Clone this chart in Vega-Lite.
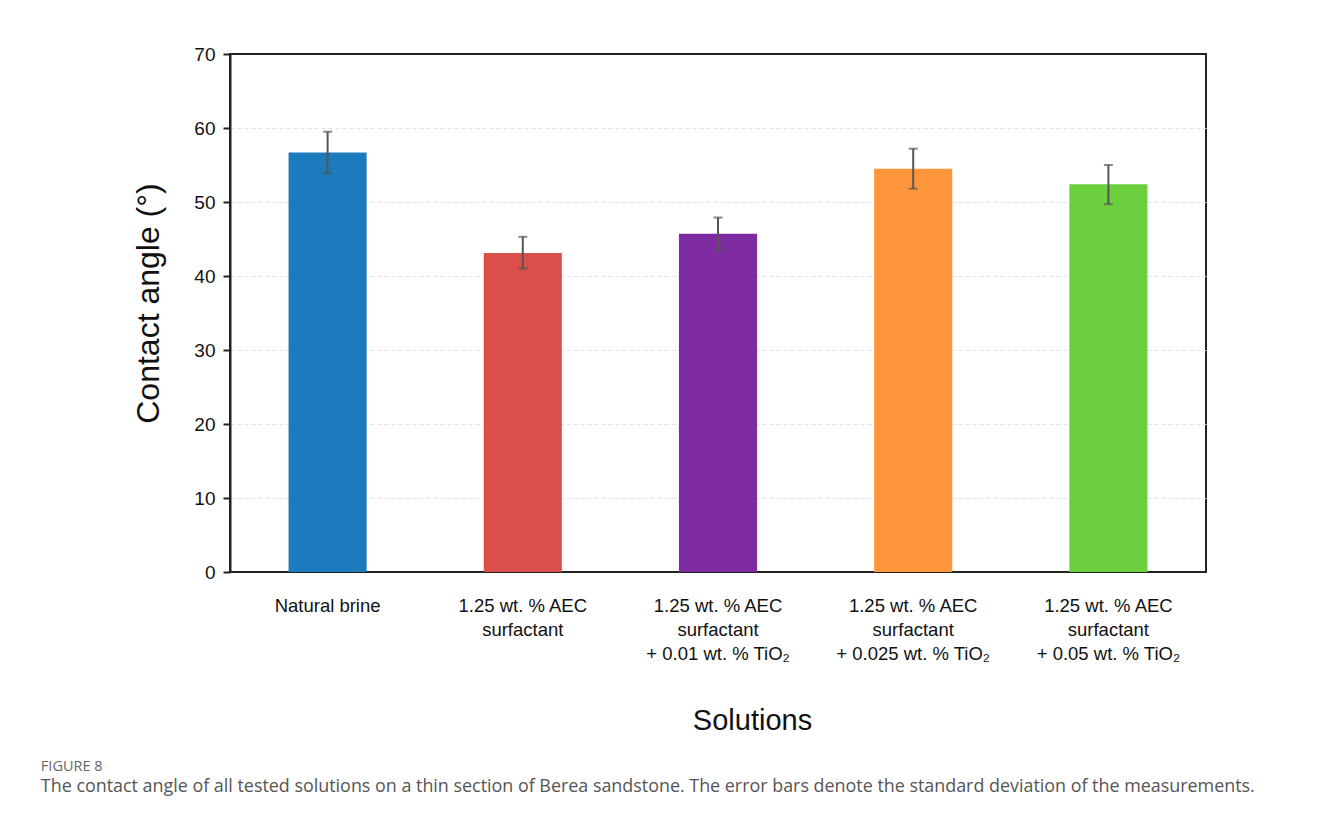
{
  "$schema": "https://vega.github.io/schema/vega-lite/v6.json",
  "width": 976,
  "height": 518,
  "padding": {"left": 40, "top": 45, "right": 10, "bottom": 10},
  "background": "white",
  "config": {
    "font": "Liberation Sans",
    "view": {"stroke": "#222", "strokeWidth": 2},
    "title": {"font": "Open Sans", "subtitleFont": "Open Sans"}
  },
  "title": {
    "text": "FIGURE 8",
    "subtitle": "The contact angle of all tested solutions on a thin section of Berea sandstone. The error bars denote the standard deviation of the measurements.",
    "orient": "bottom",
    "anchor": "start",
    "frame": "bounds",
    "dx": -92,
    "fontSize": 14.5,
    "fontWeight": "normal",
    "color": "#666",
    "subtitleFontSize": 17.9,
    "subtitleColor": "#555",
    "subtitlePadding": 4,
    "offset": 24
  },
  "data": {
    "values": [
      {"solution": "Natural brine", "angle": 56.7, "lo": 53.9, "hi": 59.5},
      {"solution": "1.25 wt. % AEC|surfactant", "angle": 43.1, "lo": 41.0, "hi": 45.3},
      {"solution": "1.25 wt. % AEC|surfactant|+ 0.01 wt. % TiO₂", "angle": 45.7, "lo": 43.4, "hi": 47.9},
      {"solution": "1.25 wt. % AEC|surfactant|+ 0.025 wt. % TiO₂", "angle": 54.5, "lo": 51.8, "hi": 57.2},
      {"solution": "1.25 wt. % AEC|surfactant|+ 0.05 wt. % TiO₂", "angle": 52.4, "lo": 49.7, "hi": 55.0}
    ]
  },
  "encoding": {
    "x": {
      "field": "solution",
      "type": "nominal",
      "sort": null,
      "scale": {"paddingInner": 0.6, "paddingOuter": 0.3},
      "axis": {
        "title": "Solutions",
        "titleFontSize": 29,
        "titleFontWeight": "normal",
        "titleColor": "#111",
        "titlePadding": 44,
        "titleX": 522,
        "titleAlign": "center",
        "labelAngle": 0,
        "labelFontSize": 18.5,
        "labelColor": "#111",
        "labelLineHeight": 24,
        "labelBaseline": "middle",
        "labelPadding": 33,
        "labelExpr": "split(datum.label, '|')",
        "ticks": false,
        "domain": false,
        "grid": false
      }
    }
  },
  "layer": [
    {
      "mark": {"type": "bar"},
      "encoding": {
        "y": {
          "field": "angle",
          "type": "quantitative",
          "scale": {"domain": [0, 70]},
          "axis": {
            "title": "Contact angle (°)",
            "titleFontSize": 32,
            "titleFontWeight": "normal",
            "titleColor": "#111",
            "titlePadding": 28,
            "titleY": 249,
            "values": [0, 10, 20, 30, 40, 50, 60, 70],
            "labelFontSize": 19,
            "labelColor": "#111",
            "labelPadding": 8,
            "tickSize": 7,
            "tickColor": "#222",
            "tickWidth": 2,
            "domainColor": "#222",
            "domainWidth": 2,
            "gridColor": "#e2e2e2",
            "gridDash": [4, 3],
            "gridWidth": 1,
            "gridOpacity": {
              "condition": {"test": "datum.value == 0 || datum.value == 70", "value": 0},
              "value": 1
            }
          }
        },
        "color": {
          "field": "solution",
          "type": "nominal",
          "sort": null,
          "legend": null,
          "scale": {
            "domain": [
              "Natural brine",
              "1.25 wt. % AEC|surfactant",
              "1.25 wt. % AEC|surfactant|+ 0.01 wt. % TiO₂",
              "1.25 wt. % AEC|surfactant|+ 0.025 wt. % TiO₂",
              "1.25 wt. % AEC|surfactant|+ 0.05 wt. % TiO₂"
            ],
            "range": ["#1c7bbd", "#da4f4a", "#7e2aa0", "#fe953a", "#6ccf3e"]
          }
        }
      }
    },
    {
      "mark": {"type": "rule", "color": "#555", "strokeWidth": 2},
      "encoding": {
        "y": {"field": "lo", "type": "quantitative"},
        "y2": {"field": "hi"}
      }
    },
    {
      "mark": {"type": "tick", "color": "#555", "thickness": 2, "size": 9},
      "encoding": {"y": {"field": "lo", "type": "quantitative"}}
    },
    {
      "mark": {"type": "tick", "color": "#555", "thickness": 2, "size": 9},
      "encoding": {"y": {"field": "hi", "type": "quantitative"}}
    }
  ]
}
